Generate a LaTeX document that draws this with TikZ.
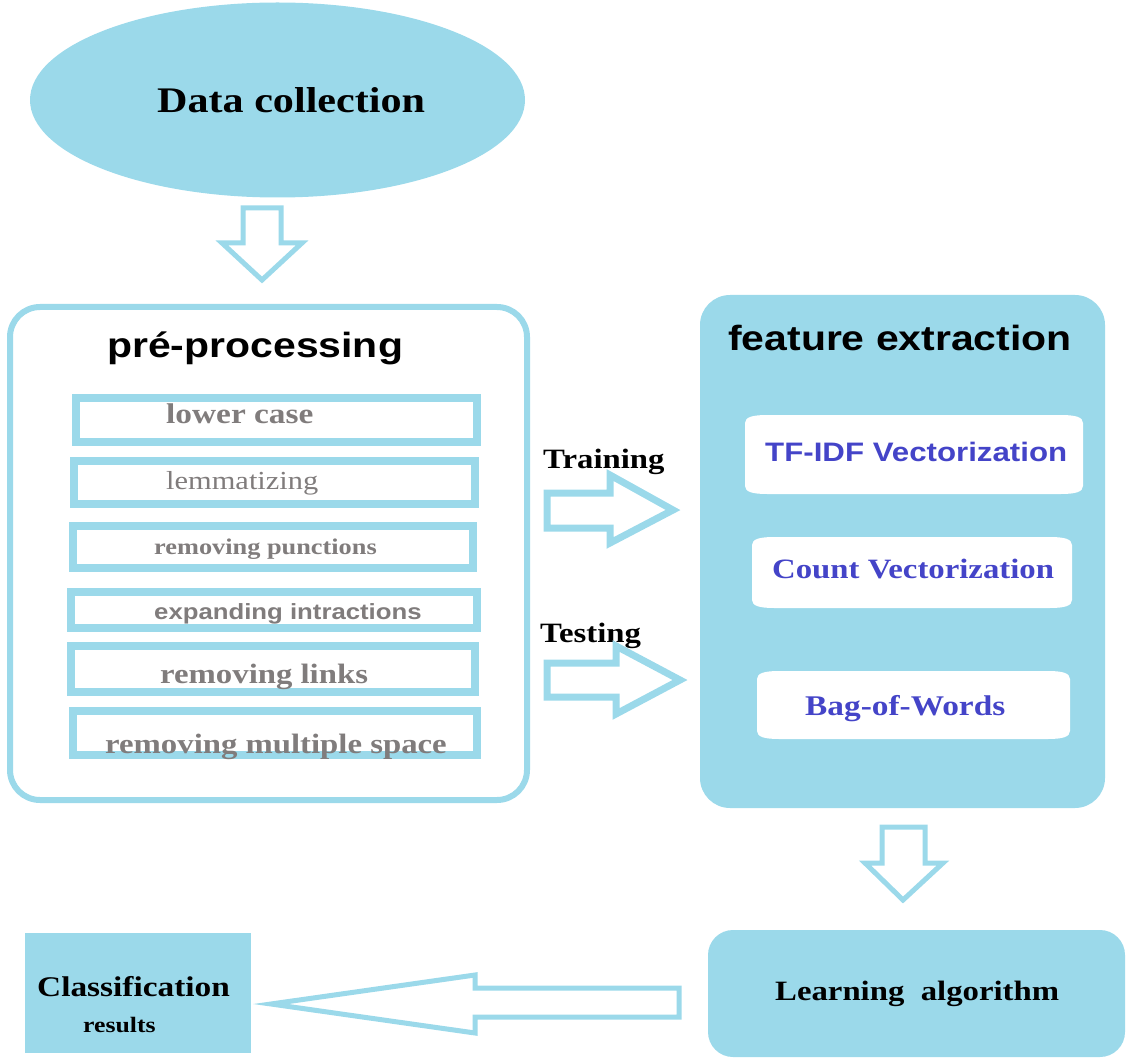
\documentclass[tikz,border=0pt]{standalone}
\usepackage{fontspec}
\setmainfont{Liberation Serif}[FakeStretch=1.17]
\setsansfont{Liberation Sans}[FakeStretch=1.17]
\usetikzlibrary{shapes.geometric}
\definecolor{sky}{RGB}{155,217,234}
\definecolor{stepgray}{RGB}{128,124,124}
\definecolor{vecblue}{RGB}{68,68,200}

% white panel with softly rounded, elliptic corners: x1,y1,x2,y2
\newcommand\tapeshape[4]{%
  \fill[white] (#1,{#2+8}) .. controls (#1,{#2+2}) and ({#1+8},#2) .. ({#1+22},#2)
    -- ({#3-22},#2) .. controls ({#3-8},#2) and (#3,{#2+2}) .. (#3,{#2+8})
    -- (#3,{#4-8}) .. controls (#3,{#4-2}) and ({#3-8},#4) .. ({#3-22},#4)
    -- ({#1+22},#4) .. controls ({#1+8},#4) and (#1,{#4-2}) .. (#1,{#4-8}) -- cycle;}

\begin{document}
\begin{tikzpicture}[x=1pt,y=-1pt,
  txt/.style={inner sep=0pt, anchor=base west},
  title/.style={txt, font=\fontsize{35}{40}\selectfont\sffamily\bfseries},
  stepitem/.style={txt, text=stepgray, font=\fontsize{#1}{30}\selectfont\bfseries},
  label/.style={txt, font=\fontsize{#1}{32}\selectfont\bfseries},
  vec/.style={txt, text=vecblue, font=\fontsize{#1}{32}\selectfont\bfseries},
  itembox/.style={draw=sky, line width=8pt, fill=white},
  blockarrow/.style={draw=sky, line width=#1, fill=white, line join=miter},
  blockarrow/.default=5pt]
\useasboundingbox (0,0) rectangle (1127,1059);

% data collection
\node[ellipse, fill=sky, minimum width=495, minimum height=195, inner sep=0] (dc) at (277.5,100) {};
\node[label=36] (dctext) at (157,113) {Data collection};

\draw[blockarrow] (243,208) -- (281,208) -- (281,243) -- (302,243) -- (262,280) -- (222,243) -- (243,243) -- cycle;

% pre-processing panel
\draw[draw=sky, line width=6pt, fill=white, rounded corners=30pt] (10,307) rectangle (527,800);
\node[title] (pp) at (107,357) {pré-processing};

\draw[itembox] (76,398) rectangle (477,442);
\draw[itembox] (74,461) rectangle (475,504);
\draw[itembox] (73,526) rectangle (473,568);
\draw[itembox] (71,592) rectangle (477,628);
\draw[itembox] (71,646) rectangle (475,692);
\draw[itembox] (73,711) rectangle (477,755);

\node[stepitem=28.5] (s1) at (166,423) {lower case};
\node[stepitem=26, font=\fontsize{26}{30}\selectfont\mdseries] (s2) at (166,489) {lemmatizing};
\node[stepitem=22.5] (s3) at (154,554) {removing punctions};
\node[stepitem=22, font=\fontsize{22}{30}\selectfont\sffamily\bfseries] (s4) at (154,619) {expanding intractions};
\node[stepitem=28] (s5) at (160,683) {removing links};
\node[stepitem=28] (s6) at (105,753) {removing multiple space};

% training / testing
\node[label=28] (train) at (543,468) {Training};
\node[label=28] (test) at (540,642) {Testing};
\draw[blockarrow=7pt] (547,493) -- (610,493) -- (610,475) -- (673,510) -- (610,543) -- (610,528) -- (547,528) -- cycle;
\draw[blockarrow=7pt] (547,663) -- (616,663) -- (616,646) -- (680,680) -- (616,714) -- (616,697) -- (547,697) -- cycle;

% feature extraction panel
\fill[sky, rounded corners=30pt] (700,295) rectangle (1105,808);
\node[title] (fe) at (728,350) {feature extraction};
\tapeshape{745}{415}{1083}{494}
\tapeshape{752}{537}{1072}{608}
\tapeshape{757}{671}{1070}{739}
\node[vec=26.7, font=\fontsize{26.7}{32}\selectfont\sffamily\bfseries] (tfidf) at (765,461) {TF-IDF Vectorization};
\node[vec=28] (count) at (772,578) {Count Vectorization};
\node[vec=28.5] (bow) at (805,715) {Bag-of-Words};

\draw[blockarrow] (882,827) -- (925,827) -- (925,863) -- (943,863) -- (903,900) -- (865,863) -- (882,863) -- cycle;

% learning algorithm and results
\fill[sky, rounded corners=25pt] (708,930) rectangle (1125,1057);
\node[label=28] (learn) at (775,1000) {Learning\ \ algorithm};

\draw[blockarrow] (679,988) -- (679,1017) -- (475,1017) -- (475,1033) -- (271,1004) -- (475,975) -- (475,988) -- cycle;

\fill[sky] (25,933) rectangle (251,1053);
\node[label=28.5] (cls) at (37,996) {Classification};
\node[label=22] (res) at (83,1032) {results};
\end{tikzpicture}
\end{document}
